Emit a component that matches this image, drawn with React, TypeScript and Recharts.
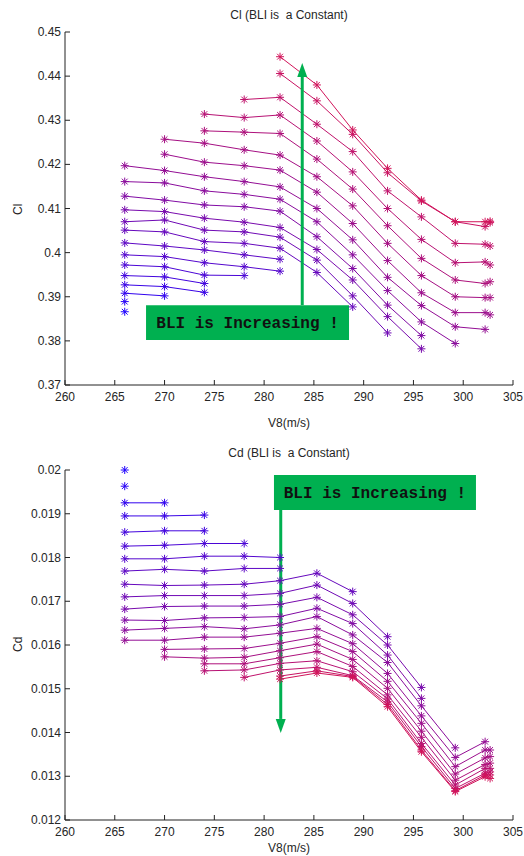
import React from 'react';
import { LineChart, Line, XAxis, YAxis, ReferenceArea, ReferenceLine } from 'recharts';

// V8 (m/s) stations, and index of the first station of each constant-BLI series (low BLI -> high BLI)
const V8 = [266, 270, 274, 278, 281.6, 285.3, 288.9, 292.4, 295.8, 299.2, 302.2, 302.7];
const firstPoint = [0, 0, 0, 0, 0, 0, 0, 0, 0, 0, 0, 0, 0, 0, 1, 1, 2, 2, 3, 4, 4];

const xTicks = [260, 265, 270, 275, 280, 285, 290, 295, 300, 305];
const clTicks = [0.37, 0.38, 0.39, 0.4, 0.41, 0.42, 0.43, 0.44, 0.45];
const cdTicks = [0.012, 0.013, 0.014, 0.015, 0.016, 0.017, 0.018, 0.019, 0.02];

// Cl
const cl00 = [0.3866];
const cl01 = [0.3889];
const cl02 = [0.3908, 0.3902];
const cl03 = [0.3927, 0.3923, 0.391];
const cl04 = [0.3948, 0.3945, 0.393];
const cl05 = [0.3972, 0.3968, 0.3949, 0.3948];
const cl06 = [0.3995, 0.3991, 0.3977, 0.3968, 0.3958];
const cl07 = [0.4022, 0.4015, 0.4006, 0.3995, 0.3985];
const cl08 = [0.4051, 0.4047, 0.4025, 0.4021, 0.401, 0.3955, 0.3877];
const cl09 = [0.407, 0.4074, 0.4051, 0.4047, 0.4035, 0.3983, 0.3902, 0.3818];
const cl10 = [0.4097, 0.4093, 0.4078, 0.4069, 0.4057, 0.4007, 0.3938, 0.3855, 0.3782];
const cl11 = [0.4128, 0.4119, 0.4108, 0.4104, 0.4094, 0.4036, 0.3964, 0.3881, 0.3812];
const cl12 = [0.4161, 0.4158, 0.414, 0.4132, 0.4121, 0.407, 0.3995, 0.3914, 0.3843, 0.3794];
const cl13 = [0.4197, 0.4186, 0.4172, 0.4161, 0.4149, 0.41, 0.4029, 0.3944, 0.388, 0.3832, 0.3826];
const cl14 = [0.4223, 0.4205, 0.4197, 0.4187, 0.4137, 0.4066, 0.3982, 0.3909, 0.3864, 0.3864, 0.3859];
const cl15 = [0.4257, 0.4248, 0.4233, 0.4221, 0.4172, 0.4106, 0.4021, 0.3948, 0.39, 0.3898, 0.3898];
const cl16 = [0.4276, 0.4273, 0.427, 0.4212, 0.4144, 0.4061, 0.3987, 0.3938, 0.393, 0.3934];
const cl17 = [0.4314, 0.4306, 0.4312, 0.4253, 0.4183, 0.41, 0.403, 0.3977, 0.3979, 0.3972];
const cl18 = [0.4347, 0.4352, 0.4291, 0.4229, 0.414, 0.4081, 0.4021, 0.4019, 0.4015];
const cl19 = [0.4406, 0.4344, 0.4268, 0.4181, 0.4117, 0.407, 0.4059, 0.4068];
const cl20 = [0.4444, 0.438, 0.4278, 0.4191, 0.4119, 0.407, 0.407, 0.4071];

// Cd
const cd00 = [0.02];
const cd01 = [0.01963];
const cd02 = [0.01925, 0.01925];
const cd03 = [0.01895, 0.01895, 0.01897];
const cd04 = [0.01858, 0.01861, 0.01861];
const cd05 = [0.01826, 0.01828, 0.01832, 0.01832];
const cd06 = [0.01797, 0.01797, 0.01803, 0.01803, 0.018];
const cd07 = [0.01769, 0.01773, 0.01769, 0.01775, 0.01775];
const cd08 = [0.01739, 0.01736, 0.01737, 0.01739, 0.01747, 0.01764, 0.01722];
const cd09 = [0.0171, 0.01713, 0.01713, 0.01713, 0.01718, 0.01737, 0.01695, 0.01619];
const cd10 = [0.01682, 0.01688, 0.01689, 0.01689, 0.01693, 0.01709, 0.01669, 0.016, 0.01503];
const cd11 = [0.01657, 0.01656, 0.01662, 0.01663, 0.01665, 0.01684, 0.01649, 0.01577, 0.01478];
const cd12 = [0.01634, 0.01638, 0.01642, 0.01637, 0.01646, 0.01665, 0.01623, 0.0156, 0.01461, 0.01365];
const cd13 = [0.01611, 0.01611, 0.01618, 0.01618, 0.01627, 0.01638, 0.01603, 0.01535, 0.01438, 0.01343, 0.01379];
const cd14 = [0.0159, 0.01591, 0.01592, 0.01604, 0.01619, 0.01585, 0.01517, 0.01421, 0.01322, 0.0136, 0.0136];
const cd15 = [0.01573, 0.0157, 0.01572, 0.01587, 0.01602, 0.01567, 0.01501, 0.01403, 0.01305, 0.01342, 0.01345];
const cd16 = [0.01557, 0.01557, 0.01571, 0.01585, 0.01551, 0.01486, 0.01389, 0.01291, 0.01327, 0.0133];
const cd17 = [0.01541, 0.01543, 0.01558, 0.01564, 0.01539, 0.01477, 0.01375, 0.0128, 0.01318, 0.01318];
const cd18 = [0.01526, 0.01543, 0.01549, 0.0153, 0.0147, 0.01368, 0.01272, 0.01307, 0.0131];
const cd19 = [0.01529, 0.01541, 0.01528, 0.01464, 0.0136, 0.01267, 0.01303, 0.01303];
const cd20 = [0.01522, 0.01536, 0.01526, 0.01459, 0.01356, 0.01265, 0.01299, 0.01295];

const clSeries = [cl00, cl01, cl02, cl03, cl04, cl05, cl06, cl07, cl08, cl09, cl10,
  cl11, cl12, cl13, cl14, cl15, cl16, cl17, cl18, cl19, cl20];
const cdSeries = [cd00, cd01, cd02, cd03, cd04, cd05, cd06, cd07, cd08, cd09, cd10,
  cd11, cd12, cd13, cd14, cd15, cd16, cd17, cd18, cd19, cd20];

const toPoints = (vals: number[], k: number) =>
  vals.map((y, i) => ({ v: V8[firstPoint[k] + i], y }));

// blue for low BLI through purple to crimson for high BLI
const seriesColor = (k: number) => {
  const t = k / 20;
  return `rgb(${Math.round(30 + 180 * t)},${Math.round(20 * t)},${Math.round(255 - 165 * t)})`;
};

const AXIS = '#222';
const FONT = '"Liberation Sans", Arial, sans-serif';

const Star = (props: any) => {
  const { cx, cy, stroke, index } = props;
  if (cx == null || cy == null) return <g key={`s-${index}`} />;
  const r = 4;
  const d = 2.9;
  return (
    <g key={`s-${index}`} stroke={stroke} strokeWidth={1}>
      <line x1={cx - r} y1={cy} x2={cx + r} y2={cy} />
      <line x1={cx} y1={cy - r} x2={cx} y2={cy + r} />
      <line x1={cx - d} y1={cy - d} x2={cx + d} y2={cy + d} />
      <line x1={cx - d} y1={cy + d} x2={cx + d} y2={cy - d} />
    </g>
  );
};

const XTick = (props: any) => {
  const { x, y, payload } = props;
  return (
    <g>
      <line x1={x} x2={x} y1={y - 6} y2={y - 11} stroke={AXIS} />
      <text x={x} y={y} dy={10} textAnchor="middle" fontSize={12} fontFamily={FONT} fill="#262626">
        {payload.value}
      </text>
    </g>
  );
};

const YTick = (props: any) => {
  const { x, y, payload } = props;
  return (
    <g>
      <line x1={x + 4} x2={x + 9} y1={y} y2={y} stroke={AXIS} />
      <text x={x} y={y} dy={4} textAnchor="end" fontSize={12} fontFamily={FONT} fill="#262626">
        {String(payload.value)}
      </text>
    </g>
  );
};

const Arrow = (props: any) => {
  const { x1, y1, x2, y2 } = props;
  const dir = y2 < y1 ? -1 : 1;
  const head = 14;
  const half = 5;
  return (
    <g>
      <line x1={x1} y1={y1} x2={x2} y2={y2 - dir * head} stroke="#00b050" strokeWidth={3} />
      <polygon
        points={`${x2},${y2} ${x2 - half},${y2 - dir * head} ${x2 + half},${y2 - dir * head}`}
        fill="#00b050"
      />
    </g>
  );
};

const boxLabel = {
  value: 'BLI is Increasing !',
  position: 'center' as const,
  fill: '#111',
  fontSize: 16,
  fontWeight: 700,
  fontFamily: '"Liberation Mono", "Courier New", monospace',
};

function Panel(props: {
  series: number[][];
  height: number;
  marginTop: number;
  marginBottom: number;
  xAxisHeight: number;
  domain: [number, number];
  ticks: number[];
  children?: React.ReactNode;
}) {
  const { series, height, marginTop, marginBottom, xAxisHeight, domain, ticks, children } = props;
  return (
    <LineChart
      width={524}
      height={height}
      margin={{ top: marginTop, right: 11, bottom: marginBottom, left: 5 }}
    >
      <XAxis
        type="number"
        dataKey="v"
        domain={[260, 305]}
        ticks={xTicks}
        interval={0}
        height={xAxisHeight}
        tickSize={0}
        tickMargin={6}
        tickLine={false}
        axisLine={{ stroke: AXIS }}
        tick={<XTick />}
      />
      <YAxis
        type="number"
        dataKey="y"
        domain={domain}
        ticks={ticks}
        interval={0}
        width={60}
        tickSize={0}
        tickMargin={4}
        tickLine={false}
        axisLine={{ stroke: AXIS }}
        tick={<YTick />}
      />
      {series.map((vals, k) => (
        <Line
          key={k}
          data={toPoints(vals, k)}
          dataKey="y"
          type="linear"
          stroke={seriesColor(k)}
          strokeWidth={1}
          dot={<Star />}
          activeDot={false}
          isAnimationActive={false}
        />
      ))}
      {children}
    </LineChart>
  );
}

const textStyle: React.CSSProperties = {
  position: 'absolute',
  fontFamily: FONT,
  fontSize: 12,
  color: '#262626',
  whiteSpace: 'pre',
  lineHeight: '14px',
};

export default function App() {
  return (
    <div style={{ position: 'absolute', left: 0, top: 0, width: 524, height: 856, background: '#fff' }}>
      <div style={{ position: 'absolute', left: 0, top: 0 }}>
        <Panel series={clSeries} height={440} marginTop={32} marginBottom={15} xAxisHeight={40}
          domain={[0.37, 0.45]} ticks={clTicks}>
          <ReferenceArea x1={268.14} x2={288.53} y1={0.3802} y2={0.3881}
            fill="#00b050" fillOpacity={1} stroke="none" label={boxLabel} />
          <ReferenceLine segment={[{ x: 283.83, y: 0.3881 }, { x: 283.83, y: 0.443 }]} shape={<Arrow />} />
        </Panel>
      </div>
      <div style={{ position: 'absolute', left: 0, top: 440 }}>
        <Panel series={cdSeries} height={416} marginTop={30} marginBottom={6} xAxisHeight={30}
          domain={[0.012, 0.02]} ticks={cdTicks}>
          <ReferenceArea x1={280.99} x2={301.28} y1={0.019086} y2={0.019886}
            fill="#00b050" fillOpacity={1} stroke="none" label={boxLabel} />
          <ReferenceLine segment={[{ x: 281.67, y: 0.019086 }, { x: 281.67, y: 0.01399 }]} shape={<Arrow />} />
        </Panel>
      </div>

      <div style={{ ...textStyle, left: 0, width: 578, textAlign: 'center', top: 8 }}>Cl (BLI is  a Constant)</div>
      <div style={{ ...textStyle, left: 0, width: 578, textAlign: 'center', top: 416 }}>V8(m/s)</div>
      <div style={{ ...textStyle, left: 0, width: 578, textAlign: 'center', top: 446 }}>Cd (BLI is  a Constant)</div>
      <div style={{ ...textStyle, left: 0, width: 578, textAlign: 'center', top: 841 }}>V8(m/s)</div>
      <div style={{ ...textStyle, left: 11, top: 201, transform: 'rotate(-90deg)', transformOrigin: '7px 7px' }}>Cl</div>
      <div style={{ ...textStyle, left: 11, top: 638, transform: 'rotate(-90deg)', transformOrigin: '7px 7px' }}>Cd</div>
    </div>
  );
}
